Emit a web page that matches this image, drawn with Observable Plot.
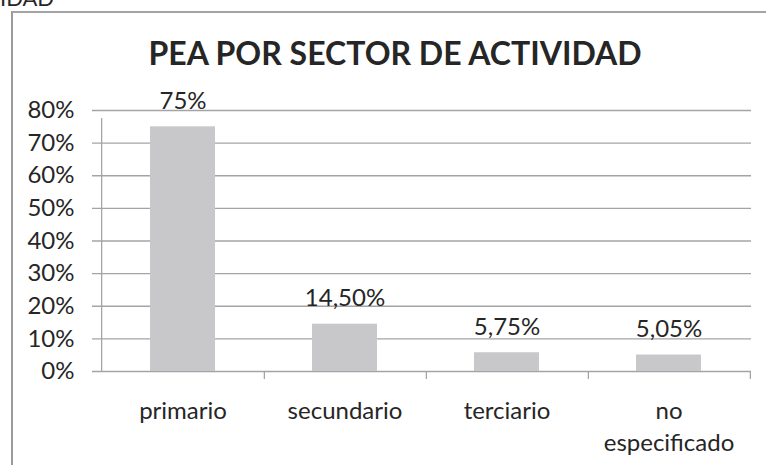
<!DOCTYPE html>
<html>
<head>
<meta charset="utf-8">
<script src="https://cdn.jsdelivr.net/npm/d3@7"></script>
<script src="https://cdn.jsdelivr.net/npm/@observablehq/plot@0.6"></script>
<style>
  html, body { margin: 0; padding: 0; background: #fff; }
  #wrap { position: relative; width: 766px; height: 465px; overflow: hidden; font-family: Lato, "Open Sans", sans-serif; color: #262626; }
  #frame { position: absolute; left: 11px; top: 11px; width: 820px; height: 520px; border-left: 2px solid #9a9a9e; border-top: 2px solid #a4a4a8; box-sizing: border-box; }
  #cut { position: absolute; left: 0px; top: -13.5px; font-size: 22px; line-height: 22px; white-space: nowrap; }
  #title { position: absolute; left: 0; top: 37px; width: 790px; text-align: center; font-size: 32px; line-height: 32px; font-weight: bold; white-space: nowrap; }
  #chart { position: absolute; left: 0; top: 80px; }
</style>
</head>
<body>
<div id="wrap">
  <div id="frame"></div>
  <div id="cut">IDAD</div>
  <div id="title">PEA POR SECTOR DE ACTIVIDAD</div>
  <div id="chart"></div>
</div>
<script>
const categories = ["primario", "secundario", "terciario", "no especificado"];
const values = [75, 14.5, 5.75, 5.05];
const valueLabels = ["75%", "14,50%", "5,75%", "5,05%"];
const xTickLabels = ["primario", "secundario", "terciario", "no\nespecificado"];
const yTicks = [0, 10, 20, 30, 40, 50, 60, 70, 80];
const yTickLabels = ["0%", "10%", "20%", "30%", "40%", "50%", "60%", "70%", "80%"];

const data = categories.map((c, i) => ({category: c, value: values[i], label: valueLabels[i], tick: xTickLabels[i]}));
const yData = yTicks.map((t, i) => ({t, label: yTickLabels[i]}));

const W = 766, H = 385, mL = 100, mR = 15, mT = 30, mB = 94;
const step = (W - mL - mR) / categories.length;
const gridColor = "#a4a4a8";
const textColor = "#262626";
const fs = 24;

const chart = Plot.plot({
  width: W,
  height: H,
  marginLeft: mL,
  marginRight: mR,
  marginTop: mT,
  marginBottom: mB,
  style: {fontFamily: "Lato, 'Open Sans', sans-serif", background: "transparent", overflow: "visible"},
  x: {type: "band", domain: categories, paddingInner: 0.6, paddingOuter: 0.3, axis: null},
  y: {domain: [0, 80], axis: null},
  marks: [
    Plot.ruleY(yData, {y: "t", stroke: gridColor, strokeWidth: 1.3, insetLeft: -8}),
    Plot.barY(data, {x: "category", y: "value", fill: "#c8c8ca"}),
    Plot.ruleX([categories[0]], {x: d => d, dx: -step / 2, y1: 0, y2: 80, insetBottom: -8, stroke: gridColor, strokeWidth: 1.3}),
    Plot.ruleX(categories, {x: d => d, dx: step / 2, y1: 0, y2: 0, insetBottom: -8, stroke: gridColor, strokeWidth: 1.3}),
    Plot.text(data, {x: "category", y: "value", text: "label", lineAnchor: "bottom", dy: -18, fontSize: fs, fill: textColor}),
    Plot.text(yData, {y: "t", text: "label", frameAnchor: "left", textAnchor: "end", dx: -26, lineAnchor: "middle", fontSize: fs, fill: textColor}),
    Plot.text(data, {x: "category", y: () => 0, text: "tick", lineAnchor: "top", dy: 25, lineHeight: 1.33, fontSize: fs, fill: textColor})
  ]
});
document.getElementById("chart").appendChild(chart);
</script>
</body>
</html>
